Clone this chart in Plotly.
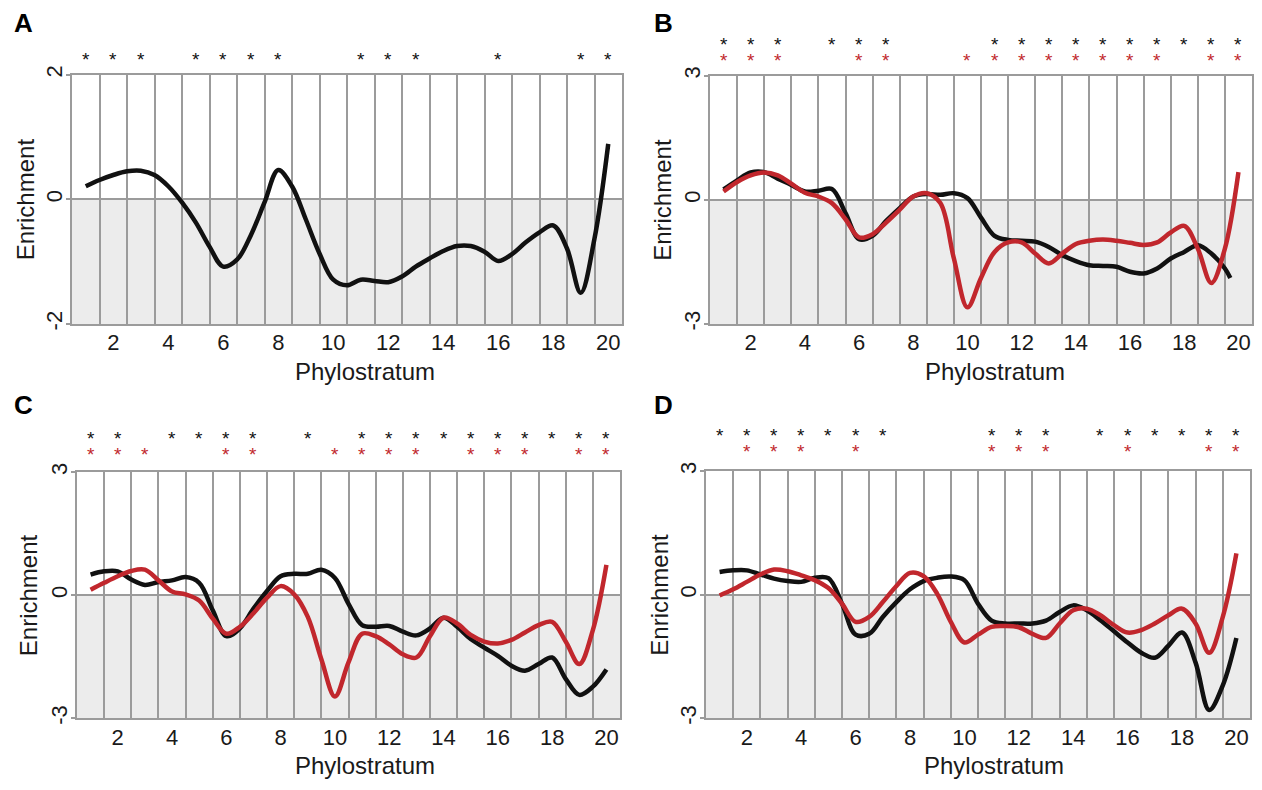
import plotly.graph_objects as go

# ---------------- data ----------------
PHYLO_X = [1.0, 1.5, 2.0, 2.5, 3.0, 3.5, 4.0, 4.5, 5.0, 5.5, 6.0, 6.5, 7.0, 7.5,
           8.0, 8.5, 9.0, 9.5, 10.0, 10.5, 11.0, 11.5, 12.0, 12.5, 13.0, 13.5,
           14.0, 14.5, 15.0, 15.5, 16.0, 16.5, 17.0, 17.5, 18.0, 18.5, 19.0,
           19.5, 20.0]
PHYLOSTRATA = [1, 2, 3, 4, 5, 6, 7, 8, 9, 10, 11, 12, 13, 14, 15, 16, 17, 18,
               19, 20]
X_TICKS = [2, 4, 6, 8, 10, 12, 14, 16, 18, 20]
COLUMN_EDGES = [0.5, 1.5, 2.5, 3.5, 4.5, 5.5, 6.5, 7.5, 8.5, 9.5, 10.5, 11.5,
                12.5, 13.5, 14.5, 15.5, 16.5, 17.5, 18.5, 19.5, 20.5]

A_BLACK = [0.21, 0.31, 0.39, 0.45, 0.46, 0.39, 0.21, -0.05, -0.37, -0.76, -1.08,
           -0.97, -0.58, -0.05, 0.47, 0.21, -0.32, -0.87, -1.29, -1.38, -1.29,
           -1.31, -1.33, -1.24, -1.08, -0.95, -0.83, -0.75, -0.75, -0.84, -0.99,
           -0.88, -0.69, -0.53, -0.42, -0.79, -1.50, -0.63, 0.89]

B_BLACK_X = [1.0, 1.5, 2.0, 2.5, 3.0, 3.5, 4.0, 4.5, 5.0, 5.5, 6.0, 6.5, 7.0, 7.5,
             8.0, 8.5, 9.0, 9.5, 10.0, 10.5, 11.0, 11.5, 12.0, 12.5, 13.0, 13.5,
             14.0, 14.5, 15.0, 15.5, 16.0, 16.5, 17.0, 17.5, 18.0, 18.5, 19.0,
             19.5, 19.7]
B_BLACK = [0.25, 0.47, 0.66, 0.67, 0.51, 0.36, 0.20, 0.22, 0.26, -0.32, -0.95,
           -0.87, -0.51, -0.20, 0.08, 0.14, 0.12, 0.16, 0.04, -0.43, -0.87, -0.97,
           -0.99, -1.01, -1.14, -1.34, -1.48, -1.58, -1.60, -1.62, -1.74, -1.78,
           -1.66, -1.42, -1.26, -1.10, -1.30, -1.66, -1.89]
B_RED = [0.20, 0.43, 0.59, 0.66, 0.59, 0.39, 0.17, 0.08, -0.08, -0.47, -0.91,
         -0.83, -0.55, -0.24, 0.08, 0.16, -0.08, -1.42, -2.60, -1.89, -1.26, -1.03,
         -1.03, -1.30, -1.54, -1.30, -1.07, -0.99, -0.96, -0.99, -1.04, -1.09,
         -1.03, -0.79, -0.63, -1.18, -2.01, -1.18, 0.67]

C_BLACK = [0.50, 0.58, 0.58, 0.38, 0.25, 0.32, 0.36, 0.44, 0.30, -0.37, -1.00,
           -0.81, -0.33, 0.10, 0.46, 0.52, 0.52, 0.62, 0.42, -0.21, -0.73, -0.77,
           -0.75, -0.89, -0.98, -0.81, -0.55, -0.77, -1.07, -1.28, -1.48, -1.72,
           -1.84, -1.68, -1.52, -2.04, -2.43, -2.23, -1.81]
C_RED = [0.13, 0.30, 0.46, 0.59, 0.62, 0.36, 0.09, 0.02, -0.13, -0.57, -0.94,
         -0.77, -0.44, -0.06, 0.22, 0.02, -0.53, -1.56, -2.47, -1.64, -0.94, -1.00,
         -1.20, -1.44, -1.52, -1.00, -0.55, -0.69, -0.97, -1.13, -1.18, -1.09,
         -0.91, -0.73, -0.65, -1.13, -1.68, -0.85, 0.74]

D_BLACK = [0.55, 0.59, 0.59, 0.49, 0.39, 0.33, 0.31, 0.41, 0.40, -0.22, -0.97,
           -0.95, -0.54, -0.18, 0.13, 0.33, 0.41, 0.44, 0.35, -0.22, -0.63, -0.70,
           -0.70, -0.70, -0.63, -0.42, -0.26, -0.38, -0.62, -0.89, -1.16, -1.41,
           -1.53, -1.24, -0.92, -1.65, -2.80, -2.20, -1.05]
D_RED = [-0.02, 0.13, 0.31, 0.49, 0.61, 0.57, 0.47, 0.35, 0.16, -0.22, -0.66,
         -0.54, -0.18, 0.21, 0.53, 0.45, 0.02, -0.66, -1.16, -0.97, -0.78, -0.76,
         -0.79, -0.95, -1.05, -0.70, -0.38, -0.34, -0.50, -0.74, -0.92, -0.86,
         -0.70, -0.50, -0.34, -0.70, -1.41, -0.54, 1.00]

A_SIG_BLACK = [1, 2, 3, 5, 6, 7, 8, 11, 12, 13, 16, 19, 20]
B_SIG_BLACK = [1, 2, 3, 5, 6, 7, 11, 12, 13, 14, 15, 16, 17, 18, 19, 20]
B_SIG_RED = [1, 2, 3, 6, 7, 10, 11, 12, 13, 14, 15, 16, 17, 19, 20]
C_SIG_BLACK = [1, 2, 4, 5, 6, 7, 9, 11, 12, 13, 14, 15, 16, 17, 18, 19, 20]
C_SIG_RED = [1, 2, 3, 6, 7, 10, 11, 12, 13, 15, 16, 17, 19, 20]
D_SIG_BLACK = [1, 2, 3, 4, 5, 6, 7, 11, 12, 13, 15, 16, 17, 18, 19, 20]
D_SIG_RED = [2, 3, 4, 6, 11, 12, 13, 16, 19, 20]

Y_TICKS_A = [-2, 0, 2]
Y_TICKTEXT_A = ["-2", "0", "2"]
Y_TICKS_BCD = [-3, 0, 3]
Y_TICKTEXT_BCD = ["-3", "0", "3"]

# ---------------- style ----------------
W, H = 1262, 790
FONT = "Liberation Sans, Arial, Helvetica, sans-serif"
BLACK = "#111111"
RED = "#c1272d"
GRID = "#9b9b9b"
SHADE = "#ececec"
TEXT = "#1a1a1a"
STAR_SIZE = 19
ROW_GAP = 16          # px between the black and red asterisk rows
STAR_SHIFT = 5        # '*' glyph renders this many px below its box centre


def px(x):
    return x / W


def py(y):
    return 1 - y / H


panels = [
    dict(key="", letter="A", box=(72, 67, 622, 321), yr=(-2, 2),
         yt=Y_TICKS_A, ytt=Y_TICKTEXT_A,
         series=[(PHYLO_X, A_BLACK, BLACK)],
         sig_black=A_SIG_BLACK, sig_red=None, star_top=56,
         letter_xy=(12, 14), xtitle_x=365, xtitle_y=370, ytitle_x=25),
    dict(key="2", letter="B", box=(710, 68, 1252, 321), yr=(-3, 3),
         yt=Y_TICKS_BCD, ytt=Y_TICKTEXT_BCD,
         series=[(B_BLACK_X, B_BLACK, BLACK), (PHYLO_X, B_RED, RED)],
         sig_black=B_SIG_BLACK, sig_red=B_SIG_RED, star_top=41,
         letter_xy=(652, 14), xtitle_x=995, xtitle_y=370, ytitle_x=663),
    dict(key="3", letter="C", box=(77, 472, 620, 723), yr=(-3, 3),
         yt=Y_TICKS_BCD, ytt=Y_TICKTEXT_BCD,
         series=[(PHYLO_X, C_BLACK, BLACK), (PHYLO_X, C_RED, RED)],
         sig_black=C_SIG_BLACK, sig_red=C_SIG_RED, star_top=443,
         letter_xy=(12, 404), xtitle_x=365, xtitle_y=771, ytitle_x=28),
    dict(key="4", letter="D", box=(706, 471, 1250, 723), yr=(-3, 3),
         yt=Y_TICKS_BCD, ytt=Y_TICKTEXT_BCD,
         series=[(PHYLO_X, D_BLACK, BLACK), (PHYLO_X, D_RED, RED)],
         sig_black=D_SIG_BLACK, sig_red=D_SIG_RED, star_top=440,
         letter_xy=(652, 404), xtitle_x=994, xtitle_y=771, ytitle_x=660),
]


def star_span(flag, color):
    ch = "*" if flag else "\u00a0"
    return '<span style="font-size:%dpx;color:%s">%s</span>' % (STAR_SIZE, color, ch)


fig = go.Figure()
layout = dict(
    width=W, height=H, margin=dict(l=0, r=0, t=0, b=0),
    paper_bgcolor="white", plot_bgcolor="white", showlegend=False,
    font=dict(family=FONT, color=TEXT),
)
shapes = []
annotations = []

for p in panels:
    k = p["key"]
    xa = "x" + k
    ya = "y" + k
    x0, y0, x1, y1 = p["box"]
    ymin, ymax = p["yr"]

    layout["xaxis" + k] = dict(
        domain=[px(x0), px(x1)], anchor=ya, range=[0.5, 20.5],
        tickmode="array", tickvals=X_TICKS, ticks="", showgrid=False,
        zeroline=False, showline=True, mirror=True, linecolor=GRID, linewidth=2,
        tickfont=dict(size=22, family=FONT, color=TEXT), ticklabelstandoff=-2,
        minor=dict(tickmode="array", tickvals=COLUMN_EDGES, showgrid=True,
                   gridcolor=GRID, gridwidth=2, ticks=""),
        fixedrange=True,
    )
    layout["yaxis" + k] = dict(
        domain=[py(y1), py(y0)], anchor=xa, range=[ymin, ymax],
        tickmode="array", tickvals=p["yt"], ticktext=p["ytt"],
        ticks="outside", ticklen=4,
        tickwidth=2, tickcolor=GRID, showgrid=False, zeroline=True,
        zerolinecolor=GRID, zerolinewidth=2, showline=True, mirror=True,
        linecolor=GRID, linewidth=2, tickangle=-90, ticklabelstandoff=-5,
        tickfont=dict(size=22, family=FONT, color=TEXT), fixedrange=True,
    )
    shapes.append(dict(type="rect", xref=xa + " domain", yref=ya,
                       x0=0, x1=1, y0=ymin, y1=0, fillcolor=SHADE,
                       line=dict(width=0), layer="below"))

    for xs, ys, col in p["series"]:
        fig.add_trace(go.Scatter(
            x=xs, y=ys, mode="lines", xaxis=xa, yaxis=ya,
            line=dict(color=col, width=4.5, shape="spline", smoothing=1.0),
            hoverinfo="skip"))

    # significance asterisks (one text block per phylostratum column)
    top = p["star_top"]
    if p["sig_red"] is None:
        for s in p["sig_black"]:
            annotations.append(dict(
                text="*", xref=xa, yref="paper", x=s, y=py(top - STAR_SHIFT),
                xanchor="center", yanchor="middle", showarrow=False,
                font=dict(size=STAR_SIZE, color=BLACK, family=FONT)))
    else:
        mid = top + ROW_GAP / 2.0
        for s in PHYLOSTRATA:
            b = s in p["sig_black"]
            r = s in p["sig_red"]
            if not (b or r):
                continue
            annotations.append(dict(
                text=star_span(b, BLACK) + "<br>" + star_span(r, RED),
                xref=xa, yref="paper", x=s, y=py(mid - STAR_SHIFT),
                xanchor="center", yanchor="middle", showarrow=False,
                font=dict(size=ROW_GAP / 1.3, color=BLACK, family=FONT)))

    lx, ly = p["letter_xy"]
    annotations.append(dict(
        text="<b>%s</b>" % p["letter"], xref="paper", yref="paper",
        x=px(lx), y=py(ly), xanchor="left", yanchor="middle", showarrow=False,
        font=dict(size=26, family=FONT, color="#000000")))
    annotations.append(dict(
        text="Phylostratum", xref="paper", yref="paper",
        x=px(p["xtitle_x"]), y=py(p["xtitle_y"]), xanchor="center",
        yanchor="middle", showarrow=False,
        font=dict(size=24, family=FONT, color=TEXT)))
    annotations.append(dict(
        text="Enrichment", xref="paper", yref="paper",
        x=px(p["ytitle_x"]), y=py((y0 + y1) / 2), xanchor="center",
        yanchor="middle", showarrow=False, textangle=-90,
        font=dict(size=24, family=FONT, color=TEXT)))

layout["shapes"] = shapes
layout["annotations"] = annotations
fig.update_layout(**layout)

fig.write_html("out.html")
